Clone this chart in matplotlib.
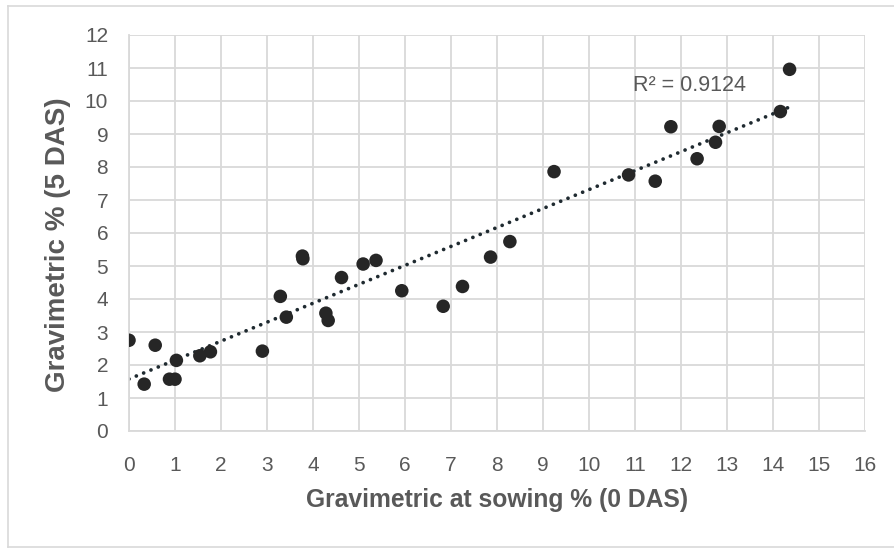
import matplotlib
matplotlib.use("Agg")
import matplotlib.pyplot as plt
import numpy as np
from matplotlib.lines import Line2D

plt.rcParams['font.family'] = ['Liberation Sans', 'DejaVu Sans']

x_sowing = [0.00, 0.33, 0.57, 0.88, 1.00, 1.03, 1.54, 1.77, 2.90, 3.29, 3.42, 3.77, 3.78,
            4.28, 4.33, 4.62, 5.09, 5.37, 5.93, 6.83, 7.25, 7.86, 8.28, 9.24, 10.86,
            11.44, 11.78, 12.35, 12.75, 12.83, 14.16, 14.36]
y_5das = [2.75, 1.42, 2.60, 1.57, 1.57, 2.14, 2.28, 2.40, 2.42, 4.08, 3.45, 5.30, 5.22,
          3.57, 3.35, 4.65, 5.06, 5.17, 4.25, 3.78, 4.38, 5.27, 5.74, 7.86, 7.76,
          7.57, 9.22, 8.25, 8.75, 9.23, 9.68, 10.96]
r2_label = "R\u00b2 = 0.9124"
x_ticks = list(range(0, 17))
y_ticks = list(range(0, 13))

W, H = 894, 548
fig = plt.figure(figsize=(W/100, H/100), dpi=100)
ax = fig.add_axes([129/W, 1-431/H, (865-129)/W, (431-35)/H])

grid_c = '#d9d9d9'
text_c = '#595959'

ax.set_xlim(0, 16)
ax.set_ylim(0, 12)
ax.set_xticks(x_ticks)
ax.set_yticks(y_ticks)
ax.grid(True, color=grid_c, linewidth=1.3)
ax.set_axisbelow(True)
for s in ['top', 'right']:
    ax.spines[s].set_visible(False)
for s in ['left', 'bottom']:
    ax.spines[s].set_color(grid_c)
    ax.spines[s].set_linewidth(1.3)
ax.tick_params(axis='both', length=0, labelsize=15, colors=text_c)
ax.tick_params(axis='y', pad=15)
ax.tick_params(axis='x', pad=18)

xs = np.array(x_sowing)
ys = np.array(y_5das)
m, b = np.polyfit(xs, ys, 1)
xl = np.array([xs.min(), xs.max()])
ax.plot(xl, m*xl + b, linestyle=(0, (0.01, 2.1)), color='#1f2a30', linewidth=2.7,
        dash_capstyle='round', zorder=2)

ax.scatter(xs, ys, s=95, color='#262626', zorder=3, edgecolors='none')

ax.text(10.96, 10.48, r2_label, fontsize=15.5, color=text_c, va='center', ha='left')

fig.text(497.5/W, 1-500/H, 'Gravimetric at sowing % (0 DAS)', fontsize=17.7,
         fontweight='bold', color=text_c, ha='center', va='center')
fig.text(58.5/W, 1-244.5/H, 'Gravimetric % (5 DAS)', fontsize=20, rotation=90,
         fontweight='bold', color=text_c, ha='center', va='center')

bc = '#d9d9d9'
fig.add_artist(Line2D([7.5/W, 1], [1-5.5/H, 1-5.5/H], transform=fig.transFigure, color=bc, lw=1.2))
fig.add_artist(Line2D([7.5/W, 7.5/W], [1-5.5/H, 1-547/H], transform=fig.transFigure, color=bc, lw=1.2))
fig.add_artist(Line2D([7.5/W, 1], [1-547/H, 1-547/H], transform=fig.transFigure, color=bc, lw=1.2))

fig.savefig('out.png', dpi=100)
